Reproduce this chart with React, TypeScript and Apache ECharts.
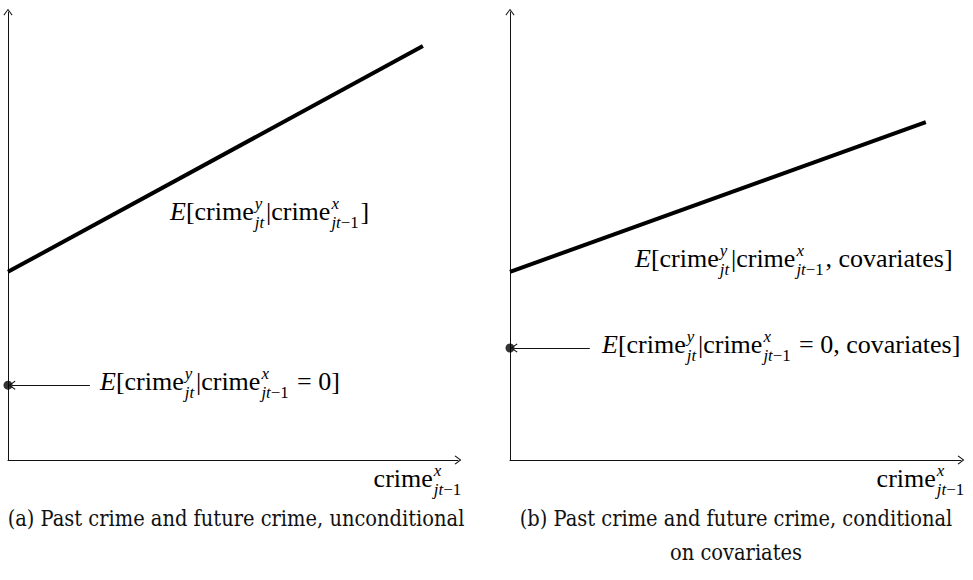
import React, { useEffect, useRef } from 'react';
import * as echarts from 'echarts';

// ---------- data (abstract axis units, 0..10) ----------
const xDomain = [0, 10];
const yDomain = [0, 10];
const lineUncond = [[0, 4.2], [9.22, 9.24]];
const interceptUncond = [[0, 1.67]];
const pointerUncond = [[1.82, 1.67], [0.09, 1.67]];
const lineCond = [[0, 4.2], [9.22, 7.54]];
const interceptCond = [[0, 2.5]];
const pointerCond = [[1.77, 2.5], [0.09, 2.5]];

const captionA = '(a) Past crime and future crime, unconditional';
const captionB1 = '(b) Past crime and future crime, conditional';
const captionB2 = 'on covariates';

// ---------- math label tokens ----------
type Frag = { t: string; i?: boolean };
type Tok = Frag | { sup: Frag[]; sub: Frag[] };
const crimeY: Tok = { sup: [{ t: 'y', i: true }], sub: [{ t: 'jt', i: true }] };
const crimeX: Tok = { sup: [{ t: 'x', i: true }], sub: [{ t: 'jt', i: true }, { t: '−1' }] };
const labelUncond: Tok[] = [{ t: 'E', i: true }, { t: '[crime' }, crimeY, { t: '|crime' }, crimeX, { t: ']' }];
const labelUncondZero: Tok[] = [{ t: 'E', i: true }, { t: '[crime' }, crimeY, { t: '|crime' }, crimeX, { t: ' = 0]' }];
const labelCond: Tok[] = [{ t: 'E', i: true }, { t: '[crime' }, crimeY, { t: '|crime' }, crimeX, { t: ', covariates]' }];
const labelCondZero: Tok[] = [{ t: 'E', i: true }, { t: '[crime' }, crimeY, { t: '|crime' }, crimeX, { t: ' = 0, covariates]' }];
const axisNameTokens: Tok[] = [{ t: 'crime' }, crimeX];

const MATH_FONT = 'Liberation Serif';
const CAPTION_FONT = '"DejaVu Serif Condensed", "DejaVu Serif"';
const K = 0.34; // central-baseline offset ratio
const ARROW = 'path://M0 0 L6 8 L5 9 L0 2.2 L-5 9 L-6 8 Z';

function layoutMath(ctx: CanvasRenderingContext2D, tokens: Tok[], x: number, baseline: number, align: 'left' | 'right', size: number) {
  const script = size * 0.65;
  const up = size * 0.42;
  const down = size * 0.32;
  const out: { t: string; i: boolean; sz: number; x: number; y: number }[] = [];
  let cx = 0;
  const put = (f: Frag, sz: number, dx: number, dy: number) => {
    ctx.font = `${f.i ? 'italic ' : ''}${sz}px "${MATH_FONT}"`;
    const w = ctx.measureText(f.t).width;
    out.push({ t: f.t, i: !!f.i, sz, x: dx, y: baseline + dy });
    return w;
  };
  for (const tok of tokens) {
    if ('t' in tok) {
      cx += put(tok, size, cx, 0);
    } else {
      cx += size * 0.04;
      let a = cx;
      for (const f of tok.sup) a += put(f, script, a, -up);
      let b = cx;
      for (const f of tok.sub) b += put(f, script, b, down);
      cx = Math.max(a, b) + size * 0.07;
    }
  }
  const shift = align === 'right' ? x - cx : x;
  return {
    width: cx,
    items: out.map((o) => ({
      type: 'text',
      x: o.x + shift,
      y: o.y - K * o.sz,
      silent: true,
      style: {
        text: o.t,
        fontFamily: MATH_FONT,
        fontSize: o.sz,
        fontStyle: o.i ? 'italic' : 'normal',
        fill: '#000',
        align: 'left',
        verticalAlign: 'middle',
        textAlign: 'left',
        textVerticalAlign: 'middle',
      },
    })),
  };
}

function axisPair(gi: number) {
  const common = {
    gridIndex: gi,
    type: 'value' as const,
    axisTick: { show: false },
    axisLabel: { show: false },
    splitLine: { show: false },
  };
  const axisLine = { show: true, onZero: false, symbol: ['none', ARROW], symbolSize: [9, 7], lineStyle: { color: '#111', width: 1 } };
  return {
    x: { ...common, min: xDomain[0], max: xDomain[1], position: 'bottom', axisLine },
    y: { ...common, min: yDomain[0], max: yDomain[1], position: 'left', axisLine },
  };
}

function seriesFor(gi: number, line: number[][], dot: number[][], pointer: number[][]) {
  return [
    {
      type: 'line',
      xAxisIndex: gi,
      yAxisIndex: gi,
      data: line,
      showSymbol: false,
      clip: false,
      silent: true,
      lineStyle: { color: '#000', width: 4 },
      markLine: {
        silent: true,
        symbol: ['none', ARROW],
        symbolSize: [9, 7],
        label: { show: false },
        lineStyle: { type: 'solid', color: '#111', width: 1 },
        data: [[{ coord: pointer[0] }, { coord: pointer[1] }]],
      },
    },
    {
      type: 'scatter',
      xAxisIndex: gi,
      yAxisIndex: gi,
      data: dot,
      symbol: 'circle',
      symbolSize: 9,
      clip: false,
      silent: true,
      itemStyle: { color: '#000' },
    },
  ];
}

export default function App() {
  const ref = useRef<HTMLDivElement>(null);
  useEffect(() => {
    if (!ref.current) return;
    const chart = echarts.init(ref.current, undefined, { renderer: 'svg' });
    const ctx = document.createElement('canvas').getContext('2d') as CanvasRenderingContext2D;

    // pick math size from the intercept label of panel (a)
    const probe = layoutMath(ctx, labelUncondZero, 0, 0, 'left', 20).width;
    const MS = (20 * 240) / probe;

    const graphics: any[] = [
      ...layoutMath(ctx, labelUncond, 170, 220, 'left', MS).items,
      ...layoutMath(ctx, labelUncondZero, 100, 390, 'left', MS).items,
      ...layoutMath(ctx, labelCond, 635, 267, 'left', MS).items,
      ...layoutMath(ctx, labelCondZero, 602, 353, 'left', MS).items,
      ...layoutMath(ctx, axisNameTokens, 463, 487, 'right', MS).items,
      ...layoutMath(ctx, axisNameTokens, 966, 487, 'right', MS).items,
    ];

    ctx.font = `20px ${CAPTION_FONT}`;
    const capSize = (20 * 457) / ctx.measureText(captionA).width;
    const cap = (text: string, x: number, y: number) => ({
      type: 'text',
      x,
      y,
      silent: true,
      style: {
        text,
        fontFamily: CAPTION_FONT,
        fontSize: capSize,
        fill: '#111',
        align: 'center',
        verticalAlign: 'middle',
        textAlign: 'center',
        textVerticalAlign: 'middle',
      },
    });
    graphics.push(cap(captionA, 236, 518), cap(captionB1, 736, 518), cap(captionB2, 736, 552));

    const a = axisPair(0);
    const b = axisPair(1);
    chart.setOption({
      animation: false,
      backgroundColor: '#fff',
      grid: [
        { left: 8, top: 12, width: 450, height: 448 },
        { left: 510, top: 12, width: 451, height: 448 },
      ],
      xAxis: [a.x, b.x],
      yAxis: [a.y, b.y],
      series: [
        ...seriesFor(0, lineUncond, interceptUncond, pointerUncond),
        ...seriesFor(1, lineCond, interceptCond, pointerCond),
      ],
      graphic: graphics,
    });
    return () => chart.dispose();
  }, []);
  return <div ref={ref} style={{ position: 'fixed', left: 0, top: 0, width: 973, height: 580, background: '#fff' }} />;
}
